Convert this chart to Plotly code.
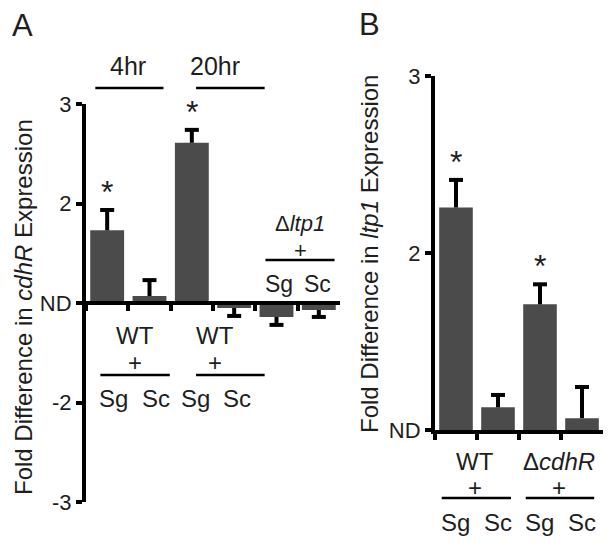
import plotly.graph_objects as go

# ---------------- data ----------------
# Panel A: cdhR expression (axis units: 2->"3", 1->"2", 0->"ND", -1->"-2", -2->"-3")
a_categories = ["4hr WT+Sg", "4hr WT+Sc", "20hr WT+Sg", "20hr WT+Sc", "dltp1+Sg", "dltp1+Sc"]
a_values = [0.73, 0.07, 1.61, -0.05, -0.14, -0.07]
a_err_up = [0.205, 0.16, 0.13, 0.0, 0.0, 0.0]
a_err_down = [0.0, 0.0, 0.0, 0.08, 0.08, 0.07]
a_sig = [True, False, True, False, False, False]
a_tickvals = [2, 1, 0, -1, -2]
a_ticktext = ["3", "2", "ND", "-2", "-3"]

# Panel B: ltp1 expression (axis units: 2->"3", 1->"2", 0->"ND")
b_categories = ["WT+Sg", "WT+Sc", "dcdhR+Sg", "dcdhR+Sc"]
b_values = [1.257, 0.128, 0.71, 0.067]
b_err_up = [0.156, 0.07, 0.113, 0.176]
b_err_down = [0.0, 0.0, 0.0, 0.0]
b_sig = [True, False, True, False]
b_tickvals = [2, 1, 0]
b_ticktext = ["3", "2", "ND"]

OFF = 8  # page body margin
W, H = 614 - OFF, 543 - OFF
FONT = "Liberation Sans, Arial, Helvetica, sans-serif"
BAR = "#4b4b4b"
TXT = "#1e1e1e"


def px(x):
    return (x - OFF) / W


def py(y):
    return 1 - (y - OFF) / H


def add_panel(fig, cats, vals, up, down, xa, ya):
    fig.add_trace(go.Bar(
        x=cats, y=vals, xaxis=xa, yaxis=ya,
        marker=dict(color=BAR, line=dict(width=0)),
        error_y=dict(type="data", symmetric=False, array=up, arrayminus=down,
                     color="black", thickness=4, width=0),
        showlegend=False, hoverinfo="skip",
    ))
    ends = [v + u if u > 0 else v - d for v, u, d in zip(vals, up, down)]
    fig.add_trace(go.Scatter(
        x=cats, y=ends, xaxis=xa, yaxis=ya, mode="markers",
        marker=dict(symbol="line-ew", size=10, line=dict(color="black", width=4)),
        showlegend=False, hoverinfo="skip",
    ))


fig = go.Figure()
add_panel(fig, a_categories, a_values, a_err_up, a_err_down, "x", "y")
add_panel(fig, b_categories, b_values, b_err_up, b_err_down, "x2", "y2")

# layout geometry (pixels, reference image coords)
A_X0, A_X1 = 86, 340
A_Y_TOP, A_Y_BOT = 104, 502
B_X0, B_X1 = 435, 603
B_Y_TOP, B_Y_BOT = 76, 430

a_zero_paper = py(A_Y_BOT) + (py(A_Y_TOP) - py(A_Y_BOT)) * 0.5

axis_common = dict(showgrid=False, zeroline=False, showline=True, linecolor="black",
                   linewidth=4, ticks="outside", tickcolor="black", tickwidth=4,
                   automargin=False, fixedrange=True)

fig.update_layout(
    template="none",
    width=W, height=H, autosize=False,
    margin=dict(l=0, r=0, t=0, b=0, pad=0),
    paper_bgcolor="white", plot_bgcolor="white",
    bargap=0.2,
    font=dict(family=FONT, color=TXT, size=20),
    xaxis=dict(domain=[px(A_X0), px(A_X1)], anchor="free", position=a_zero_paper,
               type="category", tickson="boundaries", showticklabels=False,
               ticklen=6, range=[-0.5, 5.5], **axis_common),
    yaxis=dict(domain=[py(A_Y_BOT), py(A_Y_TOP)], anchor="x", range=[-2, 2],
               tickvals=a_tickvals, ticktext=a_ticktext, ticklen=6,
               tickfont=dict(size=22, family=FONT, color=TXT), **axis_common),
    xaxis2=dict(domain=[px(B_X0), px(B_X1)], anchor="y2", type="category",
                tickson="boundaries", showticklabels=False, ticklen=6,
                range=[-0.5, 3.5], **axis_common),
    yaxis2=dict(domain=[py(B_Y_BOT), py(B_Y_TOP)], anchor="x2", range=[0, 2],
                tickvals=b_tickvals, ticktext=b_ticktext, ticklen=6,
                tickfont=dict(size=22, family=FONT, color=TXT), **axis_common),
)

ann = []
shapes = []


def text(x, y, s, size=24, xref="paper", yref="paper", **kw):
    ann.append(dict(x=x, y=y, text=s, xref=xref, yref=yref, showarrow=False,
                    xanchor="center", yanchor="middle",
                    font=dict(size=size, family=FONT, color=TXT), **kw))


def hline(x0, x1, y, xref):
    shapes.append(dict(type="line", xref=xref, yref="paper", x0=x0, x1=x1,
                       y0=py(y), y1=py(y), line=dict(color="black", width=2.5)))


# panel letters
text(px(22), py(25), "A", size=31)
text(px(369), py(24), "B", size=31)

# y titles
text(px(23), py(307), "Fold Difference in <i>cdhR</i> Expression", size=24, textangle=-90)
text(px(370), py(254), "Fold Difference in <i>ltp1</i> Expression", size=24, textangle=-90)

# asterisks
for cats, vals, up, sig, xr, yr in [(a_categories, a_values, a_err_up, a_sig, "x", "y"),
                                    (b_categories, b_values, b_err_up, b_sig, "x2", "y2")]:
    for i, s in enumerate(sig):
        if s:
            ann.append(dict(x=cats[i], y=vals[i] + up[i], xref=xr, yref=yr,
                            text="*", showarrow=False, xanchor="center", yanchor="bottom",
                            yshift=-2, font=dict(size=32, family=FONT, color=TXT)))

# Panel A group headers
text(0.5, py(66), "4hr", size=25, xref="x")
hline(-0.28, 1.33, 88, "x")
text(2.55, py(66), "20hr", size=25, xref="x")
hline(2.1, 3.72, 88, "x")

# Panel A bottom labels
for cx, x0, x1, sg, sc in [(0.65, -0.16, 1.48, 0.16, 1.16), (2.55, 2.1, 3.72, 2.08, 3.06)]:
    text(cx, py(335), "WT", xref="x")
    text(cx, py(362), "+", xref="x")
    hline(x0, x1, 375, "x")
    text(sg, py(398), "Sg", xref="x")
    text(sc, py(398), "Sc", xref="x")

# Panel A Δltp1 labels (above axis)
text(4.56, py(224), "Δ<i>ltp1</i>", size=22, xref="x")
text(4.56, py(250), "+", size=22, xref="x")
hline(3.74, 5.37, 260, "x")
text(4.07, py(284), "Sg", size=23, xref="x")
text(4.98, py(284), "Sc", size=23, xref="x")

# Panel B labels
text(0.46, py(461), "WT", xref="x2")
text(0.46, py(487), "+", xref="x2")
hline(-0.34, 1.31, 498, "x2")
text(2.46, py(461), "Δ<i>cdhR</i>", xref="x2")
text(2.46, py(487), "+", xref="x2")
hline(1.66, 3.29, 498, "x2")
for i, lab in enumerate(["Sg", "Sc", "Sg", "Sc"]):
    text(i - 0.01, py(522), lab, xref="x2")

fig.update_layout(annotations=ann, shapes=shapes)
fig.write_html("out.html")
